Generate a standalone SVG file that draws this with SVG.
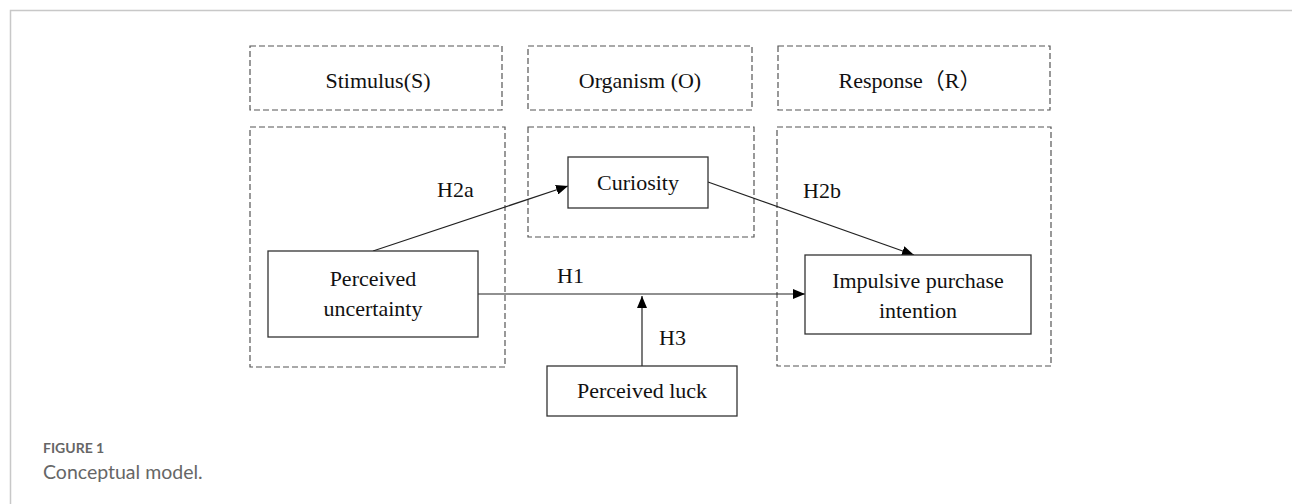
<svg xmlns="http://www.w3.org/2000/svg" width="1292" height="504" viewBox="0 0 1292 504">
<defs>
<style>
.dash{fill:none;stroke:#555;stroke-width:1.2;stroke-dasharray:6,3}
.box{fill:#fff;stroke:#333;stroke-width:1.3}
.t{font-family:"Liberation Serif","Noto Sans CJK SC",serif;font-size:22px;fill:#111;text-anchor:middle}
.lbl{font-family:"Liberation Serif",serif;font-size:22px;fill:#111}
.edge{fill:none;stroke:#222;stroke-width:1.2}
</style>
<marker id="arr" viewBox="0 0 12 10" refX="12" refY="5" markerWidth="12" markerHeight="10" markerUnits="userSpaceOnUse" orient="auto">
<path d="M0,0 L12,5 L0,10 Z" fill="#000"/>
</marker>
</defs>
<rect width="1292" height="504" fill="#fff"/>
<path d="M10.5,504 V10.5 H1292" fill="none" stroke="#c8c8c8" stroke-width="1.5"/>

<g id="stimulus-header"><rect class="dash" x="250" y="46" width="252" height="64"/><text class="t" x="378" y="88">Stimulus(S)</text></g>
<g id="organism-header"><rect class="dash" x="528" y="46" width="224" height="64"/><text class="t" x="640" y="88">Organism (O)</text></g>
<g id="response-header"><rect class="dash" x="778" y="46" width="272" height="64"/><text class="t" x="910" y="88">Response（R）</text></g>

<g id="stimulus-area"><rect class="dash" x="250" y="127" width="255" height="240"/></g>
<g id="organism-area"><rect class="dash" x="528" y="127" width="226" height="110"/></g>
<g id="response-area"><rect class="dash" x="777" y="127" width="274" height="239"/></g>

<g id="connectors">
<line class="edge" x1="373" y1="251" x2="568" y2="186" marker-end="url(#arr)"/>
<line class="edge" x1="708" y1="182" x2="914" y2="255" marker-end="url(#arr)"/>
<line class="edge" x1="478" y1="294" x2="805" y2="294" marker-end="url(#arr)"/>
<line class="edge" x1="642" y1="366" x2="642" y2="296" marker-end="url(#arr)"/>
<text class="lbl" x="437" y="197">H2a</text>
<text class="lbl" x="803" y="198">H2b</text>
<text class="lbl" x="557" y="283">H1</text>
<text class="lbl" x="659" y="345">H3</text>
</g>

<g id="perceived-uncertainty"><rect class="box" x="268" y="251" width="210" height="86"/><text class="t" x="373" y="286">Perceived</text><text class="t" x="373" y="316">uncertainty</text></g>
<g id="curiosity"><rect class="box" x="568" y="157" width="140" height="51"/><text class="t" x="638" y="190">Curiosity</text></g>
<g id="impulsive"><rect class="box" x="805" y="255" width="226" height="79"/><text class="t" x="918" y="288">Impulsive purchase</text><text class="t" x="918" y="318">intention</text></g>
<g id="perceived-luck"><rect class="box" x="547" y="366" width="190" height="50"/><text class="t" x="642" y="398">Perceived luck</text></g>

<g id="caption">
<text x="43" y="453" font-family="Lato,'Open Sans',sans-serif" font-size="14" font-weight="bold" fill="#666">FIGURE 1</text>
<text x="43" y="479" font-family="Lato,'Open Sans',sans-serif" font-size="19.5" fill="#666">Conceptual model.</text>
</g>
</svg>
